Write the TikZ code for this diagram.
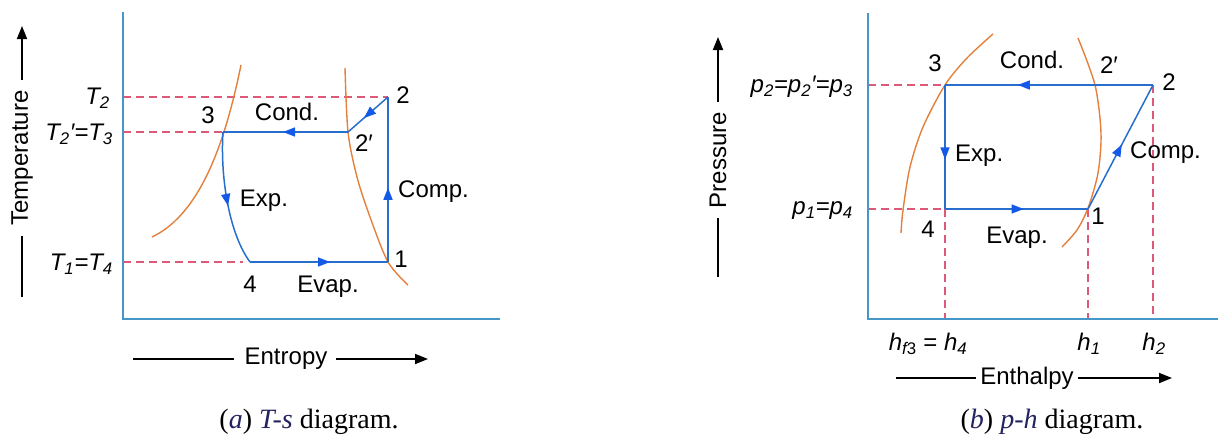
\documentclass[tikz,border=0pt]{standalone}
\usepackage{fontspec}
\setmainfont{Liberation Serif}
\setsansfont{Liberation Sans}
\usetikzlibrary{arrows.meta,decorations.markings}
\definecolor{axisc}{RGB}{70,150,200}
\definecolor{cyc}{RGB}{40,110,205}
\definecolor{tipc}{RGB}{20,90,230}
\definecolor{satc}{RGB}{228,128,60}
\definecolor{dashc}{RGB}{220,90,120}
\definecolor{navy}{RGB}{35,35,95}
\newcommand{\sbs}[1]{\textsubscript{#1}}
\begin{document}
\begin{tikzpicture}[x=1pt,y=-1pt,
  axisline/.style={draw=axisc, line width=1.8pt},
  satline/.style={draw=satc, line width=1.4pt},
  cycline/.style={draw=cyc, line width=1.5pt},
  guide/.style={draw=dashc, line width=1.2pt, dash pattern=on 8pt off 5pt},
  midarrow/.style={postaction={decorate}, decoration={markings,
      mark=at position #1 with {\arrow[tipc]{Triangle[length=12pt,width=9pt]}}}},
  lbl/.style={font=\sffamily\fontsize{24}{26}\selectfont, inner sep=0pt},
  captext/.style={font=\rmfamily\fontsize{28}{30}\selectfont, inner sep=0pt},
  axlab/.style={line width=1.8pt},
  axarrow/.style={line width=1.8pt, -{Triangle[length=13pt,width=10pt]}}]
\useasboundingbox (0,0) rectangle (1224,440);

% ================= left: T-s =================
\coordinate (LA0) at (123,12); \coordinate (LO) at (123,319); \coordinate (LA1) at (500,319);
\coordinate (a2) at (388,97); \coordinate (a2p) at (348,132); \coordinate (a3) at (223,132);
\coordinate (a4) at (250,262); \coordinate (a1) at (388,262);
\coordinate (aT2) at (123,97); \coordinate (aT3) at (123,132); \coordinate (aT1) at (123,262);
\coordinate (a4d) at (243,262);

\draw[guide] (aT2) -- (a2);
\draw[guide] (aT3) -- (a3);
\draw[guide] (aT1) -- (a4d);

\draw[satline] (152,237) .. controls (205,212) and (228,128) .. (241,65);
\draw[satline] plot[smooth] coordinates {(345,68) (348,132) (357,177) (370,217) (388,262) (408,285)};

\draw[cycline, midarrow=0.45] (a1) -- (a2);
\draw[cycline, midarrow=0.6] (a2) -- (a2p);
\draw[cycline, midarrow=0.52] (a2p) -- (a3);
\draw[cycline, midarrow=0.55] (a3) .. controls (220,180) and (230,235) .. (a4);
\draw[cycline, midarrow=0.58] (a4) -- (a1);

\draw[axisline] (LA0) -- (LO) -- (LA1);

\node[lbl, anchor=east] (lT2) at (110,98) {\itshape T\sbs{2}};
\node[lbl, anchor=east] (lT3) at (113,134) {\itshape T\sbs{2}′=T\sbs{3}};
\node[lbl, anchor=east] (lT1) at (113,264) {\itshape T\sbs{1}=T\sbs{4}};
\node[lbl] (n3a) at (208,115) {3};
\node[lbl] (conda) at (287,112) {Cond.};
\node[lbl] (n2pa) at (364,143) {2′};
\node[lbl] (n2a) at (403,95) {2};
\node[lbl, anchor=west] (compa) at (398,192) {Comp.};
\node[lbl] (expa) at (264,201) {Exp.};
\node[lbl] (n1a) at (401,259) {1};
\node[lbl] (n4a) at (250,284) {4};
\node[lbl] (evapa) at (328,287) {Evap.};

\node[lbl, rotate=90] (templ) at (22,158) {Temperature};
\coordinate (tb) at (22,297); \coordinate (tt) at (22,26);
\draw[axlab] (tb) -- ([yshift=-10pt]templ.west);
\draw[axarrow] ([yshift=10pt]templ.east) -- (tt);

\node[lbl] (entl) at (286,359) {Entropy};
\coordinate (eL) at (133,359); \coordinate (eR) at (428,359);
\draw[axlab] (eL) -- ([xshift=-10pt]entl.west);
\draw[axarrow] ([xshift=8pt]entl.east) -- (eR);

\node[captext] (capa) at (309,422) {({\color{navy}\itshape a}) {\color{navy}\itshape T-s} diagram.};

% ================= right: p-h =================
\coordinate (RA0) at (868,13); \coordinate (RO) at (868,319); \coordinate (RA1) at (1218,319);
\coordinate (b3) at (945,85); \coordinate (b2) at (1153,85); \coordinate (b4) at (945,209);
\coordinate (b1) at (1088,209);
\coordinate (bp2) at (868,85); \coordinate (bp1) at (868,209);
\coordinate (bh4) at (945,319); \coordinate (bh1) at (1088,319); \coordinate (bh2) at (1153,319);

\draw[guide] (bp2) -- (b3);
\draw[guide] (bp1) -- (b4);
\draw[guide] (b4) -- (bh4);
\draw[guide] (b1) -- (bh1);
\draw[guide] (b2) -- (bh2);

\draw[satline] plot[smooth] coordinates {(901,233) (903,210) (910,167) (923,127) (945,85) (967,58) (993,34)};
\draw[satline] plot[smooth] coordinates {(1078,38) (1095,85) (1101,133) (1098,173) (1088,208) (1077,230) (1062,247)};

\draw[cycline, midarrow=0.52] (b1) -- (b2);
\draw[cycline, midarrow=0.65] (b2) -- (b3);
\draw[cycline, midarrow=0.6] (b3) -- (b4);
\draw[cycline, midarrow=0.55] (b4) -- (b1);

\draw[axisline] (RA0) -- (RO) -- (RA1);

\node[lbl, anchor=east] (lp2) at (853,87) {\itshape p\sbs{2}=p\sbs{2}′=p\sbs{3}};
\node[lbl, anchor=east] (lp1) at (853,211) {\itshape p\sbs{1}=p\sbs{4}};
\node[lbl] (n3b) at (935,63) {3};
\node[lbl] (condb) at (1032,60) {Cond.};
\node[lbl] (n2pb) at (1109,65) {2′};
\node[lbl] (n2b) at (1169,82) {2};
\node[lbl, anchor=west] (expb) at (955,156) {Exp.};
\node[lbl, anchor=west] (compb) at (1130,153) {Comp.};
\node[lbl] (n1b) at (1098,216) {1};
\node[lbl] (n4b) at (928,229) {4};
\node[lbl] (evapb) at (1017,238) {Evap.};

\node[lbl] (lh4) at (928,344) {\itshape h\sbs{f\upshape 3} \upshape= \itshape h\sbs{4}};
\node[lbl] (lh1) at (1089,344) {\itshape h\sbs{1}};
\node[lbl] (lh2) at (1154,344) {\itshape h\sbs{2}};

\node[lbl, rotate=90] (presl) at (718,160) {Pressure};
\coordinate (pb) at (718,277); \coordinate (pt) at (718,37);
\draw[axlab] (pb) -- ([yshift=-10pt]presl.west);
\draw[axarrow] ([yshift=10pt]presl.east) -- (pt);

\node[lbl] (enthl) at (1027,378) {Enthalpy};
\coordinate (hL) at (896,378); \coordinate (hR) at (1172,378);
\draw[axlab] (hL) -- ([xshift=-4pt]enthl.west);
\draw[axarrow] ([xshift=4pt]enthl.east) -- (hR);

\node[captext] (capb) at (1052,422) {({\color{navy}\itshape b}) {\color{navy}\itshape p-h} diagram.};
\end{tikzpicture}
\end{document}
